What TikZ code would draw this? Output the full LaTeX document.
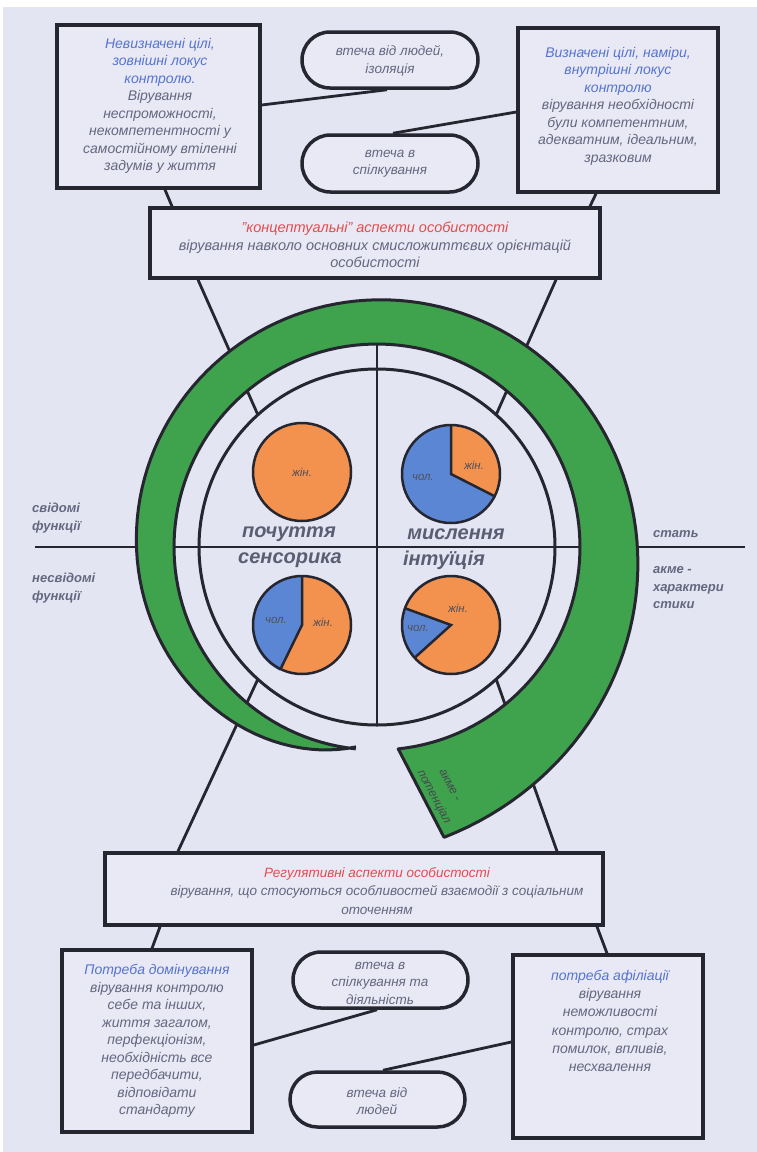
\documentclass[tikz,border=0pt]{standalone}
\usepackage{fontspec}
\setmainfont{Liberation Sans}
\usetikzlibrary{shapes.misc,calc}
\definecolor{bg}{HTML}{E3E5F2}
\definecolor{boxfill}{HTML}{E8E9F5}
\definecolor{gr}{HTML}{3FA34D}
\definecolor{txt}{HTML}{656780}
\definecolor{blu}{HTML}{5674CF}
\definecolor{rd}{HTML}{E24C4C}
\definecolor{org}{HTML}{F3914E}
\definecolor{pblue}{HTML}{5B86D4}
\definecolor{ink}{HTML}{262630}
\begin{document}
\begin{tikzpicture}[x=1pt,y=-1pt,
  box/.style={draw=ink, line width=3.5pt, fill=boxfill, inner sep=0pt},
  oval/.style={draw=ink, line width=3.5pt, fill=boxfill, rounded rectangle, inner sep=0pt},
  conn/.style={draw=ink, line width=2.8pt},
  t/.style={text=txt, font=\fontsize{14}{17.5}\selectfont\itshape, align=center, inner sep=0pt},
  ot/.style={text=txt, font=\fontsize{13.5}{17.5}\selectfont\itshape, align=center, inner sep=0pt},
  ql/.style={text=txt!90!black, font=\fontsize{20}{24}\selectfont\bfseries\itshape, inner sep=0pt},
  sl/.style={text=txt, font=\fontsize{13}{17.5}\selectfont\bfseries\itshape, align=left, inner sep=0pt, anchor=west},
  pl/.style={text=ink!80, font=\fontsize{11.5}{13}\selectfont\itshape, inner sep=0pt},
  pie/.style={circle, fill=org, inner sep=0pt, minimum size=98pt},
  pedge/.style={draw=ink, line width=2.5pt},
  gtext/.style={rotate=-62, text=ink!85, font=\fontsize{12}{13}\selectfont\itshape, inner sep=0pt},
  declare function={ro(\s)=201+45*(1-exp(-\s/40))+52*(\s/341)^5;}
]
\fill[white] (0,0) rectangle (757,1152);
\fill[bg] (3,7) rectangle (757,1152);

% boxes
\node[box, minimum width=203pt, minimum height=163pt] (tl) at (158.5,106.5) {};
\node[box, minimum width=200pt, minimum height=164pt] (tr) at (618,110) {};
\node[oval, minimum width=176pt, minimum height=56pt] (o1) at (390,60) {};
\node[oval, minimum width=176pt, minimum height=57pt] (o2) at (390,163.5) {};
\node[box, minimum width=450pt, minimum height=70pt] (cb) at (375,243) {};
\node[box, minimum width=498pt, minimum height=72pt] (rb) at (354,889) {};
\node[box, minimum width=190pt, minimum height=182pt] (bl) at (157,1041) {};
\node[box, minimum width=190pt, minimum height=183pt] (br) at (608,1046.5) {};
\node[oval, minimum width=175pt, minimum height=56pt] (o3) at (380.5,980) {};
\node[oval, minimum width=175pt, minimum height=55pt] (o4) at (377.5,1099.5) {};

% box connectors
\draw[conn] (tl.east |- 0,105) -- (o1.south -| 387,0);
\draw[conn] (o2.north -| 393,0) -- (tr.west |- 0,112);
\draw[conn] (tl.south -| 165,0) -- (cb.north -| 172,0);
\draw[conn] (tr.south -| 596,0) -- (cb.north -| 590,0);
\draw[conn] (rb.south -| 160,0) -- (bl.north -| 152,0);
\draw[conn] (rb.south -| 597,0) -- (br.north -| 607,0);
\draw[conn] (bl.east |- 0,1045) -- (o3.south -| 377,0);
\draw[conn] (o4.north -| 383,0) -- (br.west |- 0,1042);

% circle geometry
\node[circle, minimum size=356pt, inner sep=0pt, draw=none] (ic) at (377,547) {};
\coordinate (hl) at (35,547);
\coordinate (hr) at (745,547);
\coordinate (vt) at (377,345);
\draw[conn] (hl) -- (hr);
\draw[conn] (vt) -- (ic.north);
\draw[conn] (cb.south -| 198,0) -- (ic.132);
\draw[conn] (cb.south -| 556,0) -- (ic.48);
\draw[conn] (rb.north -| 178,0) -- (ic.228);
\draw[conn] (rb.north -| 557,0) -- (ic.312);

% green spiral
\filldraw[fill=gr, draw=ink, line width=3pt, line join=round]
  plot[domain=0:341, samples=140, variable=\s] ({377+ro(\s)*cos(264-\s)},{547-ro(\s)*sin(264-\s)})
  -- plot[domain=348:0, samples=140, variable=\s] ({377+203*cos(264-\s)},{547-203*sin(264-\s)});

% inner circle
\draw[ink, line width=3pt, fill=bg] (ic.center) circle[radius=178];
\draw[conn] (ic.west) -- (ic.east);
\draw[conn] (ic.north) -- (ic.south);

% pies
\node[pie] (p1) at (302,472) {};
\node[pie] (p2) at (451,474) {};
\node[pie] (p3) at (302,625) {};
\node[pie] (p4) at (451,625) {};
\begin{scope}[y=1pt]
\fill[pblue] (p2.center) -- (p2.90) arc[start angle=90, end angle=333, radius=49] -- cycle;
\fill[pblue] (p3.center) -- (p3.90) arc[start angle=90, end angle=244, radius=50] -- cycle;
\fill[pblue] (p4.center) -- (p4.160) arc[start angle=160, end angle=222, radius=49] -- cycle;
\end{scope}
\draw[pedge] (p2.90) -- (p2.center) -- (p2.-27);
\draw[pedge] (p3.90) -- (p3.center) -- (p3.244);
\draw[pedge] (p4.160) -- (p4.center) -- (p4.222);
\foreach \p in {p1,p2,p3,p4} \draw[pedge] (\p.center) circle[radius=49];

\node[pl] (l1) at (302,472) {жін.};
\node[pl] (l2a) at (474,465) {жін.};
\node[pl] (l2b) at (423,477) {чол.};
\node[pl] (l3a) at (323,622) {жін.};
\node[pl] (l3b) at (276,620) {чол.};
\node[pl] (l4a) at (458,608) {жін.};
\node[pl] (l4b) at (418,628) {чол.};

% quadrant labels
\node[ql] (q1) at (289,534) {почуття};
\node[ql] (q2) at (456,534) {мислення};
\node[ql] (q3) at (290,560) {сенсорика};
\node[ql] (q4) at (444,560) {інтуїція};

% side labels
\node[sl] (sv) at (32,518) {свідомі\\функції};
\node[sl] (nsv) at (32,588) {несвідомі\\функції};
\node[sl] (st) at (653,534) {стать};
\node[sl] (ak) at (653,588) {акме -\\характери\\стики};

% green text (two lines along the tail)
\node[gtext] (gt1) at (450,785) {акме -};
\node[gtext] (gt2) at (434,797) {потенціал};

% texts
\node[t] (tlt) at (160,106) {\textcolor{blu}{Невизначені цілі,}\\\textcolor{blu}{зовнішні локус}\\\textcolor{blu}{контролю.}\\Вірування\\неспроможності,\\некомпетентності у\\самостійному втіленні\\задумів у життя};
\node[t] (trt) at (618,106) {\textcolor{blu}{Визначені цілі, наміри,}\\\textcolor{blu}{внутрішні локус}\\\textcolor{blu}{контролю}\\вірування необхідності\\були компетентним,\\адекватним, ідеальним,\\зразковим};
\node[ot] (o1t) at (390,61) {втеча від людей,\\ізоляція};
\node[ot] (o2t) at (390,164) {втеча в\\спілкування};
\node[t, font=\fontsize{14.5}{17.5}\selectfont\itshape] (cbt) at (375,245) {\textcolor{rd}{"концептуальні" аспекти особистості}\\вірування навколо основних смисложиттєвих орієнтацій\\особистості};
\node[t, font=\fontsize{13.5}{18.5}\selectfont\itshape] (rbt) at (377,891) {\textcolor{rd}{Регулятивні аспекти особистості}\\вірування, що стосуються особливостей взаємодії з соціальним\\оточенням};
\node[t] (blt) at (157,1041) {\textcolor{blu}{Потреба домінування}\\вірування контролю\\себе та інших,\\життя загалом,\\перфекціонізм,\\необхідність все\\передбачити,\\відповідати\\стандарту};
\node[t, font=\fontsize{14}{18.3}\selectfont\itshape] (brt) at (610,1021) {\textcolor{blu}{потреба афіліації}\\вірування\\неможливості\\контролю, страх\\помилок, впливів,\\несхвалення};
\node[ot] (o3t) at (380,983) {втеча в\\спілкування та\\діяльність};
\node[ot] (o4t) at (377,1101) {втеча від\\людей};
\end{tikzpicture}
\end{document}
